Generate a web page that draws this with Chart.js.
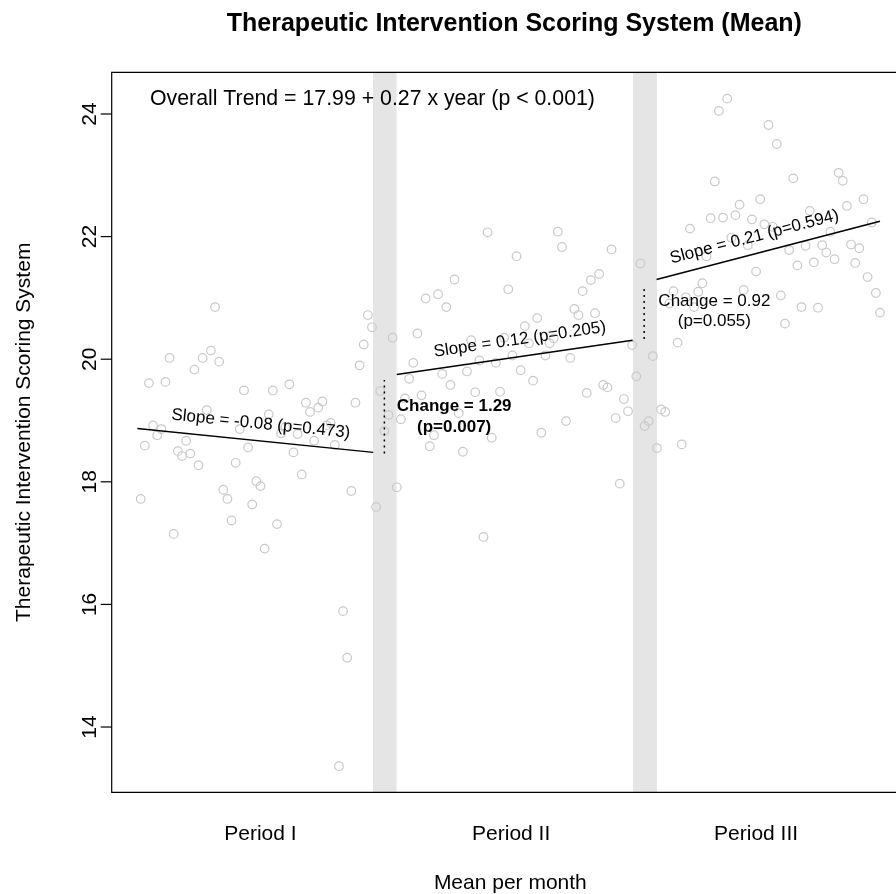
<!DOCTYPE html>
<html>
<head>
<meta charset="utf-8">
<title>Therapeutic Intervention Scoring System (Mean)</title>
<script src="https://cdn.jsdelivr.net/npm/chart.js@4.4.1/dist/chart.umd.min.js"></script>
<style>
  html, body { margin: 0; padding: 0; background: #fff; overflow: hidden; }
</style>
</head>
<body>
<canvas id="myChart" width="896" height="894"></canvas>
<script>
// monthly means, month index 0..179, split by period and transition (grey band)
const period1 = [17.72, 18.59, 19.61, 18.92, 18.76, 18.86, 19.63, 20.02, 17.15, 18.50,
  18.42, 18.67, 18.46, 19.83, 18.27, 20.02, 19.17, 20.14, 20.85, 19.96,
  17.87, 17.72, 17.37, 18.31, 18.86, 19.49, 18.56, 17.63, 18.01, 17.93,
  16.91, 19.10, 19.49, 17.31, 18.79, 18.89, 19.59, 18.48, 18.78, 18.12,
  19.29, 19.14, 18.67, 19.21, 19.31, 18.92, 18.96, 18.60, 13.36, 15.89,
  15.13, 17.85, 19.29, 19.90, 20.24, 20.72, 20.52];
const transition1 = [17.59, 19.48, 18.83, 19.09, 20.35];
const period2 = [17.91, 19.02, 19.36, 19.68, 19.94, 20.42, 19.41, 20.99, 18.58, 18.76,
  21.06, 19.76, 20.85, 19.58, 21.30, 19.12, 18.49, 19.80, 20.31, 19.46,
  19.98, 17.10, 22.07, 18.72, 19.94, 19.47, 20.35, 21.14, 20.06, 21.68,
  19.82, 20.54, 20.26, 19.65, 20.67, 18.80, 20.06, 20.26, 20.34, 22.08,
  21.83, 18.99, 20.02, 20.82, 20.72, 21.11, 19.45, 21.29, 20.75, 21.39,
  19.58, 19.54, 21.79, 19.04, 17.97, 19.35, 19.15, 20.23];
const transition2 = [19.72, 21.56, 18.91, 18.99, 20.05];
const period3 = [18.55, 19.18, 19.14, 20.91, 21.11, 20.27, 18.61, 21.01, 22.13, 20.85,
  21.10, 21.24, 21.68, 22.30, 22.90, 24.05, 22.31, 24.25, 21.98, 22.35,
  22.52, 21.13, 21.86, 22.28, 21.43, 22.61, 22.20, 23.82, 22.16, 23.51,
  21.04, 20.58, 21.78, 22.95, 21.53, 20.85, 21.85, 22.42, 21.58, 20.84,
  21.86, 21.74, 22.08, 21.63, 23.04, 22.91, 22.50, 21.87, 21.57, 21.81,
  22.61, 21.34, 22.23, 21.08, 20.76];
const segmentStart = [0, 57, 62, 120, 125];

const bandMonths = [[56.25, 61.95], [119.2, 125.0]];

// fitted segments per period
const trendMonths = [[-0.8, 56.3], [62.0, 119.1], [124.9, 179.0]];
const trendValues = [[18.87, 18.48], [19.75, 20.31], [21.30, 22.25]];
const changeMonths = [59.0, 121.9];
const changeValues = [[18.46, 19.66], [20.33, 21.18]];

const yTicks = [14, 16, 18, 20, 22, 24];
const periodLabels = ['Period I', 'Period II', 'Period III'];
const periodLabelMonth = [29, 89.7, 149];

const slopeLabels = ['Slope = -0.08 (p=0.473)', 'Slope = 0.12 (p=0.205)', 'Slope = 0.21 (p=0.594)'];
const slopeLabelMonth = [29.1, 91.8, 148.6];
const changeLabels = [['Change = 1.29', '(p=0.007)'], ['Change = 0.92', '(p=0.055)']];
const changeLabelAt = [{ x: 75.9, y: 19.23 }, { x: 138.9, y: 20.95 }];
const overallText = 'Overall Trend = 17.99 + 0.27 x year (p < 0.001)';

const FONT = '"Liberation Sans", Arial, Helvetica, sans-serif';

const points = [];
[period1, transition1, period2, transition2, period3].forEach((vals, s) => {
  vals.forEach((v, k) => points.push({ x: segmentStart[s] + k, y: v }));
});

const datasets = [{
  data: points,
  pointStyle: 'circle',
  pointRadius: 4.3,
  pointBackgroundColor: 'rgba(0,0,0,0)',
  pointBorderColor: '#c9c9c9',
  pointBorderWidth: 1.2,
  showLine: false,
  order: 2
}];
trendMonths.forEach((ms, i) => {
  datasets.push({
    data: ms.map((m, j) => ({ x: m, y: trendValues[i][j] })),
    showLine: true, borderColor: '#000', borderWidth: 1.5,
    pointRadius: 0, fill: false, order: 1
  });
});
changeMonths.forEach((m, i) => {
  datasets.push({
    data: changeValues[i].map(v => ({ x: m, y: v })),
    showLine: true, borderColor: '#000', borderWidth: 1.5, borderDash: [2, 4],
    pointRadius: 0, fill: false, order: 1
  });
});

const decorations = {
  id: 'decorations',
  beforeDatasetsDraw(chart) {
    const { ctx, chartArea: a, scales: { x } } = chart;
    ctx.save();
    ctx.fillStyle = '#e5e5e5';
    bandMonths.forEach(([m0, m1]) => {
      const x0 = x.getPixelForValue(m0), x1 = x.getPixelForValue(m1);
      ctx.fillRect(x0, a.top, x1 - x0, a.bottom - a.top);
    });
    ctx.restore();
  },
  afterDraw(chart) {
    const { ctx, chartArea: a, scales: { x, y } } = chart;
    ctx.save();
    ctx.fillStyle = '#000';
    ctx.strokeStyle = '#000';

    // frame (right side is outside the picture)
    ctx.lineWidth = 1.2;
    ctx.beginPath();
    ctx.moveTo(a.right, a.top);
    ctx.lineTo(a.left, a.top);
    ctx.lineTo(a.left, a.bottom);
    ctx.lineTo(a.right, a.bottom);
    ctx.stroke();

    // y ticks and labels
    ctx.font = '21px ' + FONT;
    ctx.textAlign = 'center';
    ctx.textBaseline = 'alphabetic';
    yTicks.forEach(v => {
      const py = y.getPixelForValue(v);
      ctx.beginPath();
      ctx.moveTo(a.left - 11, py);
      ctx.lineTo(a.left, py);
      ctx.stroke();
      ctx.save();
      ctx.translate(a.left - 16, py);
      ctx.rotate(-Math.PI / 2);
      ctx.fillText(String(v), 0, 0);
      ctx.restore();
    });

    // period labels
    periodLabels.forEach((lab, i) => {
      ctx.fillText(lab, x.getPixelForValue(periodLabelMonth[i]), 839.5);
    });

    const midX = x.getPixelForValue((segmentStart[0] + segmentStart[4] + period3.length - 1) / 2);
    ctx.fillText('Mean per month', midX, 889);

    ctx.save();
    ctx.translate(30, (a.top + a.bottom) / 2);
    ctx.rotate(-Math.PI / 2);
    ctx.fillText('Therapeutic Intervention Scoring System', 0, 0);
    ctx.restore();

    ctx.font = 'bold 25px ' + FONT;
    ctx.fillText('Therapeutic Intervention Scoring System (Mean)', midX + 4, 31);

    // overall trend
    ctx.font = '21.3px ' + FONT;
    ctx.textAlign = 'left';
    ctx.fillText(overallText, x.getPixelForValue(2.25), 104.5);

    // slope labels along the fitted lines
    ctx.font = '17px ' + FONT;
    ctx.textAlign = 'center';
    ctx.textBaseline = 'middle';
    slopeLabels.forEach((lab, i) => {
      const [m0, m1] = trendMonths[i];
      const [v0, v1] = trendValues[i];
      const px0 = x.getPixelForValue(m0), px1 = x.getPixelForValue(m1);
      const py0 = y.getPixelForValue(v0), py1 = y.getPixelForValue(v1);
      const m = slopeLabelMonth[i];
      const vm = v0 + (v1 - v0) * (m - m0) / (m1 - m0);
      const ang = Math.atan2(py1 - py0, px1 - px0);
      ctx.save();
      ctx.translate(x.getPixelForValue(m), y.getPixelForValue(vm) - 17);
      ctx.rotate(ang);
      ctx.fillText(lab, 0, 0);
      ctx.restore();
    });

    // change labels
    changeLabels.forEach((lines, i) => {
      ctx.font = (i === 0 ? 'bold ' : '') + '17px ' + FONT;
      const px = x.getPixelForValue(changeLabelAt[i].x);
      const py = y.getPixelForValue(changeLabelAt[i].y);
      lines.forEach((t, k) => ctx.fillText(t, px, py + k * 20.5));
    });
    ctx.restore();
  }
};

new Chart(document.getElementById('myChart'), {
  type: 'scatter',
  data: { datasets },
  options: {
    responsive: false,
    animation: false,
    events: [],
    layout: { autoPadding: false, padding: { left: 111.7, right: 0, top: 72.3, bottom: 101.7 } },
    scales: {
      x: { type: 'linear', min: -7.02, max: 182.88, display: false },
      y: { type: 'linear', min: 12.935, max: 24.68, display: false }
    },
    plugins: { legend: { display: false }, tooltip: { enabled: false } }
  },
  plugins: [decorations]
});
</script>
</body>
</html>
